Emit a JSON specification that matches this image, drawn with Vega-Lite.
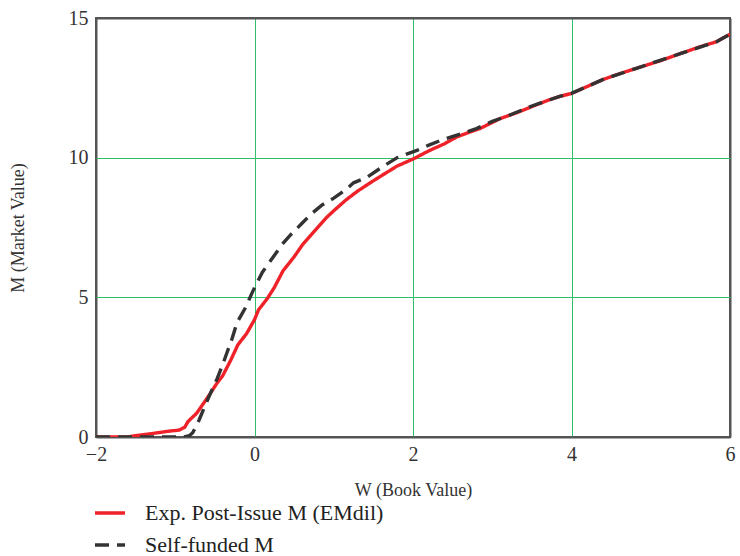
{
  "$schema": "https://vega.github.io/schema/vega-lite/v6.json",
  "autosize": "none",
  "width": 634,
  "height": 419,
  "padding": {"left": 96, "top": 18, "right": 10, "bottom": 119},
  "background": "white",
  "config": {
    "font": "Liberation Serif",
    "view": {"stroke": "#555555", "strokeWidth": 2}
  },
  "data": {
    "values": [
      {"w": -2, "m": 0, "s": "Exp. Post-Issue M (EMdil)"},
      {"w": -1.6, "m": 0, "s": "Exp. Post-Issue M (EMdil)"},
      {"w": -1.5, "m": 0.05, "s": "Exp. Post-Issue M (EMdil)"},
      {"w": -1.3, "m": 0.12, "s": "Exp. Post-Issue M (EMdil)"},
      {"w": -1.1, "m": 0.2, "s": "Exp. Post-Issue M (EMdil)"},
      {"w": -0.95, "m": 0.25, "s": "Exp. Post-Issue M (EMdil)"},
      {"w": -0.88, "m": 0.35, "s": "Exp. Post-Issue M (EMdil)"},
      {"w": -0.84, "m": 0.55, "s": "Exp. Post-Issue M (EMdil)"},
      {"w": -0.73, "m": 0.85, "s": "Exp. Post-Issue M (EMdil)"},
      {"w": -0.62, "m": 1.3, "s": "Exp. Post-Issue M (EMdil)"},
      {"w": -0.56, "m": 1.55, "s": "Exp. Post-Issue M (EMdil)"},
      {"w": -0.48, "m": 1.9, "s": "Exp. Post-Issue M (EMdil)"},
      {"w": -0.4, "m": 2.2, "s": "Exp. Post-Issue M (EMdil)"},
      {"w": -0.3, "m": 2.75, "s": "Exp. Post-Issue M (EMdil)"},
      {"w": -0.21, "m": 3.3, "s": "Exp. Post-Issue M (EMdil)"},
      {"w": -0.1, "m": 3.7, "s": "Exp. Post-Issue M (EMdil)"},
      {"w": 0.0, "m": 4.2, "s": "Exp. Post-Issue M (EMdil)"},
      {"w": 0.05, "m": 4.55, "s": "Exp. Post-Issue M (EMdil)"},
      {"w": 0.16, "m": 4.95, "s": "Exp. Post-Issue M (EMdil)"},
      {"w": 0.25, "m": 5.35, "s": "Exp. Post-Issue M (EMdil)"},
      {"w": 0.36, "m": 5.95, "s": "Exp. Post-Issue M (EMdil)"},
      {"w": 0.5, "m": 6.45, "s": "Exp. Post-Issue M (EMdil)"},
      {"w": 0.61, "m": 6.9, "s": "Exp. Post-Issue M (EMdil)"},
      {"w": 0.75, "m": 7.35, "s": "Exp. Post-Issue M (EMdil)"},
      {"w": 0.91, "m": 7.86, "s": "Exp. Post-Issue M (EMdil)"},
      {"w": 1.0, "m": 8.1, "s": "Exp. Post-Issue M (EMdil)"},
      {"w": 1.16, "m": 8.5, "s": "Exp. Post-Issue M (EMdil)"},
      {"w": 1.3, "m": 8.8, "s": "Exp. Post-Issue M (EMdil)"},
      {"w": 1.46, "m": 9.1, "s": "Exp. Post-Issue M (EMdil)"},
      {"w": 1.6, "m": 9.35, "s": "Exp. Post-Issue M (EMdil)"},
      {"w": 1.8, "m": 9.7, "s": "Exp. Post-Issue M (EMdil)"},
      {"w": 2.0, "m": 9.95, "s": "Exp. Post-Issue M (EMdil)"},
      {"w": 2.21, "m": 10.26, "s": "Exp. Post-Issue M (EMdil)"},
      {"w": 2.4, "m": 10.5, "s": "Exp. Post-Issue M (EMdil)"},
      {"w": 2.55, "m": 10.74, "s": "Exp. Post-Issue M (EMdil)"},
      {"w": 2.72, "m": 10.92, "s": "Exp. Post-Issue M (EMdil)"},
      {"w": 2.85, "m": 11.05, "s": "Exp. Post-Issue M (EMdil)"},
      {"w": 3.1, "m": 11.4, "s": "Exp. Post-Issue M (EMdil)"},
      {"w": 3.3, "m": 11.6, "s": "Exp. Post-Issue M (EMdil)"},
      {"w": 3.52, "m": 11.85, "s": "Exp. Post-Issue M (EMdil)"},
      {"w": 3.7, "m": 12.05, "s": "Exp. Post-Issue M (EMdil)"},
      {"w": 3.86, "m": 12.2, "s": "Exp. Post-Issue M (EMdil)"},
      {"w": 4.0, "m": 12.3, "s": "Exp. Post-Issue M (EMdil)"},
      {"w": 4.2, "m": 12.55, "s": "Exp. Post-Issue M (EMdil)"},
      {"w": 4.4, "m": 12.8, "s": "Exp. Post-Issue M (EMdil)"},
      {"w": 4.6, "m": 13.0, "s": "Exp. Post-Issue M (EMdil)"},
      {"w": 4.82, "m": 13.2, "s": "Exp. Post-Issue M (EMdil)"},
      {"w": 5.1, "m": 13.45, "s": "Exp. Post-Issue M (EMdil)"},
      {"w": 5.4, "m": 13.75, "s": "Exp. Post-Issue M (EMdil)"},
      {"w": 5.6, "m": 13.95, "s": "Exp. Post-Issue M (EMdil)"},
      {"w": 5.83, "m": 14.15, "s": "Exp. Post-Issue M (EMdil)"},
      {"w": 6.0, "m": 14.42, "s": "Exp. Post-Issue M (EMdil)"},
      {"w": -2, "m": 0, "s": "Self-funded M"},
      {"w": -1.5, "m": 0, "s": "Self-funded M"},
      {"w": -0.9, "m": 0, "s": "Self-funded M"},
      {"w": -0.82, "m": 0.05, "s": "Self-funded M"},
      {"w": -0.78, "m": 0.15, "s": "Self-funded M"},
      {"w": -0.7, "m": 0.6, "s": "Self-funded M"},
      {"w": -0.62, "m": 1.15, "s": "Self-funded M"},
      {"w": -0.55, "m": 1.6, "s": "Self-funded M"},
      {"w": -0.47, "m": 2.1, "s": "Self-funded M"},
      {"w": -0.4, "m": 2.6, "s": "Self-funded M"},
      {"w": -0.35, "m": 3.0, "s": "Self-funded M"},
      {"w": -0.28, "m": 3.55, "s": "Self-funded M"},
      {"w": -0.22, "m": 4.1, "s": "Self-funded M"},
      {"w": -0.12, "m": 4.6, "s": "Self-funded M"},
      {"w": 0.0, "m": 5.35, "s": "Self-funded M"},
      {"w": 0.1, "m": 5.9, "s": "Self-funded M"},
      {"w": 0.25, "m": 6.5, "s": "Self-funded M"},
      {"w": 0.35, "m": 6.9, "s": "Self-funded M"},
      {"w": 0.46, "m": 7.25, "s": "Self-funded M"},
      {"w": 0.6, "m": 7.65, "s": "Self-funded M"},
      {"w": 0.71, "m": 7.97, "s": "Self-funded M"},
      {"w": 0.85, "m": 8.3, "s": "Self-funded M"},
      {"w": 1.0, "m": 8.55, "s": "Self-funded M"},
      {"w": 1.15, "m": 8.85, "s": "Self-funded M"},
      {"w": 1.25, "m": 9.1, "s": "Self-funded M"},
      {"w": 1.42, "m": 9.3, "s": "Self-funded M"},
      {"w": 1.55, "m": 9.55, "s": "Self-funded M"},
      {"w": 1.63, "m": 9.7, "s": "Self-funded M"},
      {"w": 1.8, "m": 10.0, "s": "Self-funded M"},
      {"w": 2.05, "m": 10.26, "s": "Self-funded M"},
      {"w": 2.2, "m": 10.45, "s": "Self-funded M"},
      {"w": 2.38, "m": 10.65, "s": "Self-funded M"},
      {"w": 2.6, "m": 10.85, "s": "Self-funded M"},
      {"w": 2.8, "m": 11.04, "s": "Self-funded M"},
      {"w": 3.0, "m": 11.3, "s": "Self-funded M"},
      {"w": 3.2, "m": 11.5, "s": "Self-funded M"},
      {"w": 3.5, "m": 11.85, "s": "Self-funded M"},
      {"w": 3.7, "m": 12.05, "s": "Self-funded M"},
      {"w": 3.86, "m": 12.2, "s": "Self-funded M"},
      {"w": 4.0, "m": 12.3, "s": "Self-funded M"},
      {"w": 4.4, "m": 12.8, "s": "Self-funded M"},
      {"w": 4.82, "m": 13.2, "s": "Self-funded M"},
      {"w": 5.4, "m": 13.75, "s": "Self-funded M"},
      {"w": 5.83, "m": 14.15, "s": "Self-funded M"},
      {"w": 6.0, "m": 14.42, "s": "Self-funded M"}
    ]
  },
  "mark": {"type": "line", "strokeWidth": 3.4, "clip": true},
  "encoding": {
    "x": {
      "field": "w", "type": "quantitative",
      "scale": {"domain": [-2, 6], "nice": false, "zero": false},
      "axis": {
        "values": [-2, 0, 2, 4, 6], "title": "W (Book Value)",
        "domain": false, "ticks": false, "grid": true,
        "gridColor": {"condition": {"test": "datum.value == -2 || datum.value == 6", "value": "#555555"}, "value": "#2fbf68"},
        "gridWidth": {"condition": {"test": "datum.value == -2 || datum.value == 6", "value": 2}, "value": 1},
        "gridOpacity": 1,
        "labelFont": "Liberation Serif", "labelFontSize": 20, "labelColor": "#333333",
        "labelPadding": 7, "labelFlush": false,
        "titleFont": "Liberation Serif", "titleFontSize": 18, "titleFontWeight": "normal",
        "titleColor": "#333333", "titlePadding": 17
      }
    },
    "y": {
      "field": "m", "type": "quantitative",
      "scale": {"domain": [0, 15], "nice": false},
      "axis": {
        "values": [0, 5, 10, 15], "title": "M (Market Value)",
        "domain": false, "ticks": false, "grid": true,
        "gridColor": {"condition": {"test": "datum.value == 0 || datum.value == 15", "value": "#555555"}, "value": "#2fbf68"},
        "gridWidth": {"condition": {"test": "datum.value == 0 || datum.value == 15", "value": 2}, "value": 1},
        "gridOpacity": 1,
        "labelFont": "Liberation Serif", "labelFontSize": 20, "labelColor": "#333333",
        "labelPadding": 8, "labelFlush": false,
        "titleFont": "Liberation Serif", "titleFontSize": 18, "titleFontWeight": "normal",
        "titleColor": "#333333", "titlePadding": 41
      }
    },
    "color": {
      "field": "s", "type": "nominal",
      "scale": {"domain": ["Exp. Post-Issue M (EMdil)", "Self-funded M"], "range": ["#ee2228", "#333333"]},
      "legend": {
        "orient": "none", "legendX": -3, "legendY": 478, "title": null,
        "symbolType": "stroke", "symbolSize": 900, "symbolStrokeWidth": 3.4,
        "labelFont": "Liberation Serif", "labelFontSize": 22, "labelColor": "#222222",
        "labelOffset": 18, "rowPadding": 4, "labelLimit": 0
      }
    },
    "strokeDash": {
      "field": "s", "type": "nominal",
      "scale": {"domain": ["Exp. Post-Issue M (EMdil)", "Self-funded M"], "range": [[1, 0], [14, 8]]},
      "legend": null
    }
  }
}
